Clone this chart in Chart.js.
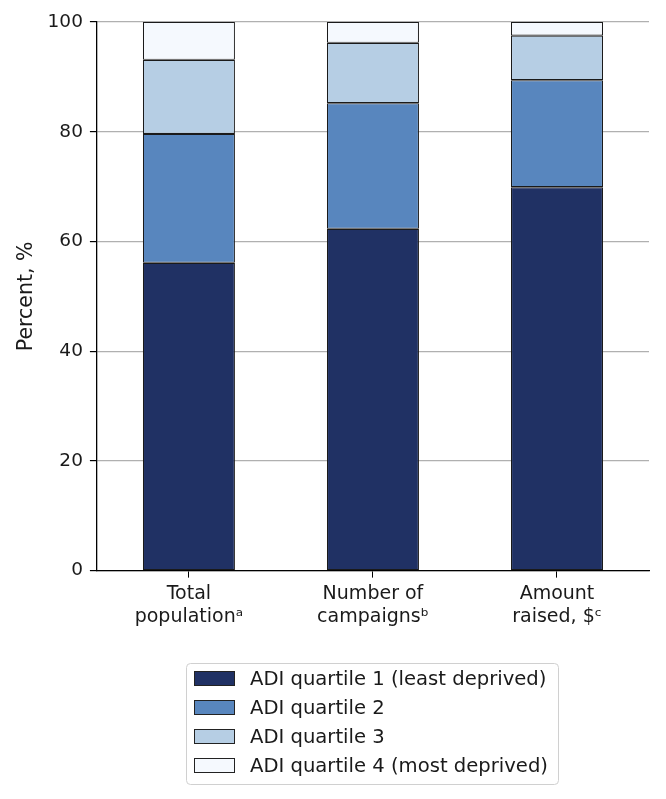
<!DOCTYPE html>
<html>
<head>
<meta charset="utf-8">
<script src="https://cdn.jsdelivr.net/npm/chart.js@4.4.1/dist/chart.umd.min.js"></script>
<style>
  html, body { margin: 0; padding: 0; background: #fff; }
  #wrap { width: 666px; height: 799px; position: relative; }
</style>
</head>
<body>
<div id="wrap"><canvas id="adiChart"></canvas></div>
<script>
const categories = [
    ["Total", "population\u1D43"],
    ["Number of", "campaigns\u1D47"],
    ["Amount", "raised, $\u1D9C"],
];
const quartile1 = [56.1, 62.3, 69.9];
const quartile2 = [23.5, 22.9, 19.5];
const quartile3 = [13.5, 11.0, 8.1];
const quartile4 = [6.9, 3.8, 2.5];
const seriesLabels = [
    "ADI quartile 1 (least deprived)",
    "ADI quartile 2",
    "ADI quartile 3",
    "ADI quartile 4 (most deprived)",
];
const seriesColors = ["#203164", "#5886be", "#b6cee4", "#f5f9fe"];
const yTicks = [0, 20, 40, 60, 80, 100];

const FONT = "'DejaVu Sans', sans-serif";

// legend drawn in canvas as a single boxed column under the axis
const boxLegend = {
    id: "boxLegend",
    afterDraw(chart) {
        const ctx = chart.ctx;
        ctx.save();
        ctx.beginPath();
        ctx.roundRect(186.5, 663.5, 372, 121, 4);
        ctx.fillStyle = "#ffffff";
        ctx.fill();
        ctx.strokeStyle = "#d0d0d0";
        ctx.lineWidth = 1;
        ctx.stroke();
        ctx.font = "19.6px " + FONT;
        ctx.textBaseline = "middle";
        chart.data.datasets.forEach((ds, i) => {
            const cy = 678.5 + i * 29;
            ctx.fillStyle = ds.backgroundColor;
            ctx.fillRect(194.5, cy - 7, 40, 14);
            ctx.strokeStyle = "#222";
            ctx.strokeRect(194.5, cy - 7, 40, 14);
            ctx.fillStyle = "#1a1a1a";
            ctx.fillText(ds.label, 250, cy + 1);
        });
        ctx.restore();
    },
};

const ctx = document.getElementById("adiChart").getContext("2d");
const data = [quartile1, quartile2, quartile3, quartile4];

new Chart(ctx, {
    type: "bar",
    data: {
        labels: categories,
        datasets: data.map((vals, i) => ({
            label: seriesLabels[i],
            data: vals,
            backgroundColor: seriesColors[i],
            borderColor: "#1a1a1a",
            borderWidth: 1.1,
            borderSkipped: false,
            categoryPercentage: 1,
            barPercentage: 0.5,
        })),
    },
    options: {
        responsive: true,
        maintainAspectRatio: false,
        animation: false,
        layout: { padding: { left: 14, right: 17, top: 22, bottom: 165 } },
        plugins: {
            legend: { display: false },
            tooltip: { enabled: false },
        },
        scales: {
            x: {
                stacked: true,
                grid: {
                    offset: false,
                    drawOnChartArea: false,
                    drawTicks: true,
                    tickLength: 7,
                    color: "#000",
                },
                border: { display: true, color: "#000", width: 1.3 },
                ticks: {
                    color: "#1a1a1a",
                    font: { family: FONT, size: 19, lineHeight: 1.22 },
                    padding: 5,
                    maxRotation: 0,
                },
            },
            y: {
                stacked: true,
                min: 0,
                max: 100,
                afterBuildTicks: (scale) => {
                    scale.ticks = yTicks.map((v) => ({ value: v }));
                },
                grid: {
                    color: "#b0b0b0",
                    lineWidth: 1.2,
                    drawTicks: true,
                    tickLength: 7,
                    tickColor: "#000",
                },
                border: { display: true, color: "#000", width: 1.3 },
                ticks: {
                    color: "#1a1a1a",
                    font: { family: FONT, size: 18.5 },
                    padding: 7,
                },
                title: {
                    display: true,
                    text: "Percent, %",
                    color: "#1a1a1a",
                    font: { family: FONT, size: 20.5 },
                    padding: { top: 0, bottom: 2 },
                },
            },
        },
    },
    plugins: [boxLegend],
});
</script>
</body>
</html>
